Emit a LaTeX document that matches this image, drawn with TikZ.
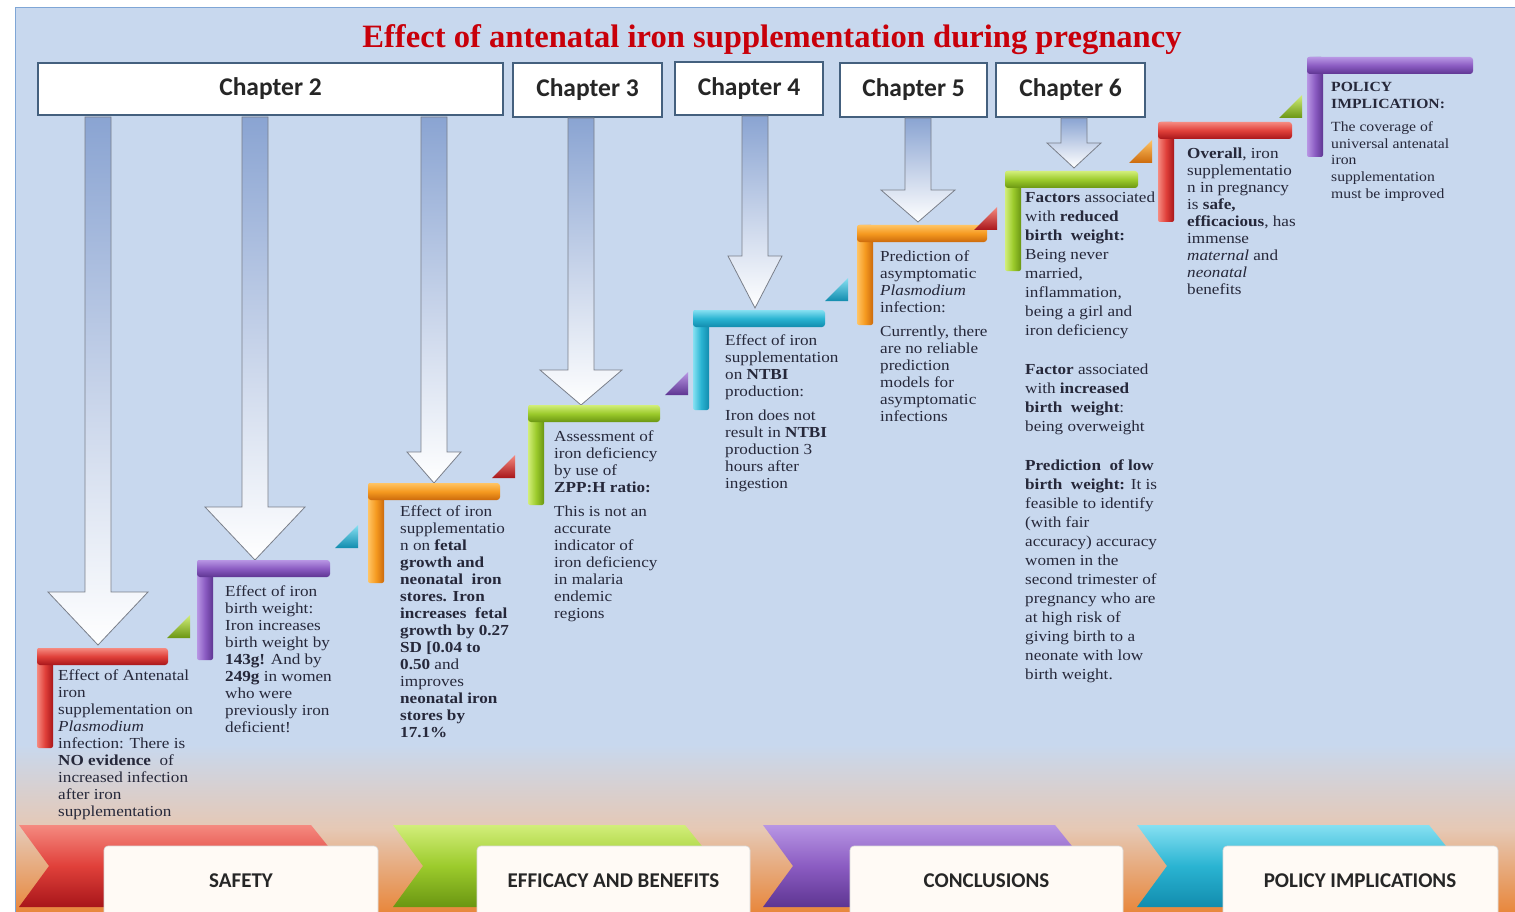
\documentclass[tikz,border=0pt]{standalone}
\usepackage{fontspec}
\setmainfont{Liberation Serif}
\newfontfamily\bodyfont{Liberation Serif}[FakeStretch=1.12]
\newfontfamily\calib{Carlito}
\definecolor{bgblue}{HTML}{C8D8EE}
\definecolor{bgtan}{HTML}{E6C8B4}
\definecolor{bgorange}{HTML}{E8873C}
\definecolor{frameblue}{HTML}{7FA6D6}
\definecolor{titlered}{HTML}{C8000A}
\definecolor{boxborder}{HTML}{44607E}
\definecolor{txtcol}{HTML}{26283A}
\definecolor{arrblue}{HTML}{8AA4D2}
\definecolor{arrline}{HTML}{7A7F8A}
\definecolor{redL}{HTML}{F58A80}\definecolor{redB}{HTML}{E0403A}\definecolor{redD}{HTML}{A8161A}
\definecolor{purL}{HTML}{B896E4}\definecolor{purB}{HTML}{8B5CC2}\definecolor{purD}{HTML}{5E3592}
\definecolor{oraL}{HTML}{FFC464}\definecolor{oraB}{HTML}{F59A20}\definecolor{oraD}{HTML}{CC6A0C}
\definecolor{greL}{HTML}{D2EE7A}\definecolor{greB}{HTML}{9CCB2C}\definecolor{greD}{HTML}{6A9612}
\definecolor{cyaL}{HTML}{86E0F2}\definecolor{cyaB}{HTML}{2AB4D2}\definecolor{cyaD}{HTML}{128CAE}
\tikzset{
  chbox/.style={draw=boxborder, line width=1.3pt, fill=white, inner sep=0pt,
    font=\calib\bfseries\fontsize{25.5}{28}\selectfont, text=black!85},
  blk/.style={anchor=north west, align=left, inner sep=0pt, text=txtcol,
    font=\bodyfont\fontsize{15.3}{17}\selectfont},
  blkwide/.style={blk, font=\bodyfont\fontsize{15.3}{19}\selectfont},
  blksmall/.style={blk, font=\bodyfont\fontsize{14}{16.6}\selectfont},
  bottomlabel/.style={font=\calib\bfseries\fontsize{21}{24}\selectfont, text=black!85},
  whitebox/.style={fill=white!96!orange, draw=white!85!black, line width=0.6pt, rounded corners=4pt},
  arrowshape/.style={draw=arrline, line width=0.8pt, top color=arrblue, bottom color=white},
}
% block arrow: centre x, top y, head y, tip y, head half width
\newcommand\myarrow[5]{%
  \path[arrowshape] (#1-13,#2) -- (#1-13,#3) -- (#1-#5,#3) -- (#1,#4) -- (#1+#5,#3)
    -- (#1+13,#3) -- (#1+13,#2) -- cycle;}
% L-shaped step: x, y, horizontal length, colour prefix
\newcommand\mystep[4]{%
  \path[rounded corners=2pt, left color=#4L, right color=#4D, middle color=#4B] (#1,#2) rectangle ++(16,100);
  \path[rounded corners=3pt, top color=#4L, bottom color=#4D, middle color=#4B] (#1,#2) rectangle ++(#3,17);}
% small triangle: top right corner x, y, colour prefix
\newcommand\mytri[3]{%
  \path[top color=#3L, bottom color=#3D] (#1,#2) -- ++(0,23) -- ++(-23,0) -- cycle;}
% chevron: left x, colour prefix
\newcommand\mychev[2]{%
  \path[top color=#2L, bottom color=#2D, middle color=#2B] (#1,825) -- ++(292,0) -- ++(33,41)
    -- ++(-33,41) -- ++(-292,0) -- ++(30,-41) -- cycle;}
\begin{document}
\begin{tikzpicture}[x=1pt,y=-1pt]
\useasboundingbox (0,0) rectangle (1515,912);
% background
\fill[white] (0,0) rectangle (1515,912);
\fill[bgblue] (15,8) rectangle (1515,745);
\shade[top color=bgblue, bottom color=bgtan] (15,744.5) rectangle (1515,830);
\shade[top color=bgtan, bottom color=bgorange] (15,829.5) rectangle (1515,912);
\draw[frameblue, line width=1pt] (15,912) -- (15,8) -- (1515,8);
% title
\node[font=\fontsize{32.6}{36}\selectfont\bfseries, text=titlered] (title) at (772,40)
  {Effect of antenatal iron supplementation during pregnancy};
% chapter boxes
\node[chbox, minimum width=465pt, minimum height=52pt] (ch2) at (270.5,89) {Chapter 2};
\node[chbox, minimum width=149pt, minimum height=54pt] (ch3) at (587.5,90) {Chapter 3};
\node[chbox, minimum width=148pt, minimum height=53pt] (ch4) at (749,88.5) {Chapter 4};
\node[chbox, minimum width=147pt, minimum height=54pt] (ch5) at (913.5,90) {Chapter 5};
\node[chbox, minimum width=149pt, minimum height=54pt] (ch6) at (1070.5,90) {Chapter 6};
% arrows
\myarrow{98}{117}{592}{645}{50}
\myarrow{255}{117}{507}{560}{50}
\myarrow{434}{117}{452}{483}{27}
\myarrow{581}{118}{370}{405}{41}
\myarrow{755}{116}{256}{308}{27}
\myarrow{918}{118}{190}{222}{37}
\myarrow{1074}{118}{143}{168}{27}
% steps
\mystep{37}{648}{131}{red}
\mystep{197}{560}{133}{pur}
\mystep{368}{483}{132}{ora}
\mystep{528}{405}{132}{gre}
\mystep{693}{310}{132}{cya}
\mystep{857}{225}{130}{ora}
\mystep{1005}{171}{133}{gre}
\mystep{1158}{122}{134}{red}
\mystep{1307}{57}{166}{pur}
% triangles
\mytri{190}{615}{gre}
\mytri{358}{525}{cya}
\mytri{515}{455}{red}
\mytri{688}{372}{pur}
\mytri{848}{278}{cya}
\mytri{997}{207}{red}
\mytri{1152}{140}{ora}
\mytri{1302}{95}{gre}
% text blocks
\node[blk] (t1) at (58,670) {Effect of Antenatal\\ iron\\ supplementation on\\ \textit{Plasmodium}\\
  infection: There is\\ \textbf{NO evidence}\ \ of\\ increased infection\\ after iron\\ supplementation};
\node[blk] (t2) at (225,586) {Effect of iron\\ birth weight:\\ Iron increases\\ birth weight by\\
  \textbf{143g!} And by\\ \textbf{249g} in women\\ who were\\ previously iron\\ deficient!};
\node[blk] (t3) at (400,506) {Effect of iron\\ supplementatio\\ n on \textbf{fetal}\\ \textbf{growth and}\\
  \textbf{neonatal\ \ iron}\\ \textbf{stores. Iron}\\ \textbf{increases\ \ fetal}\\ \textbf{growth by 0.27}\\
  \textbf{SD [0.04 to}\\ \textbf{0.50} and\\ improves\\ \textbf{neonatal iron}\\ \textbf{stores by}\\ \textbf{17.1\%}};
\node[blk] (t4) at (554,431) {Assessment of\\ iron deficiency\\ by use of\\ \textbf{ZPP:H ratio:}\\[7pt]
  This is not an\\ accurate\\ indicator of\\ iron deficiency\\ in malaria\\ endemic\\ regions};
\node[blk] (t5) at (725,335) {Effect of iron\\ supplementation\\ on \textbf{NTBI}\\ production:\\[7pt]
  Iron does not\\ result in \textbf{NTBI}\\ production 3\\ hours after\\ ingestion};
\node[blk] (t6) at (880,251) {Prediction of\\ asymptomatic\\ \textit{Plasmodium}\\ infection:\\[7pt]
  Currently, there\\ are no reliable\\ prediction\\ models for\\ asymptomatic\\ infections};
\node[blkwide] (t7) at (1025,192) {\textbf{Factors} associated\\ with \textbf{reduced}\\ \textbf{birth\ \ weight:}\\
  Being never\\ married,\\ inflammation,\\ being a girl and\\ iron deficiency\\[20pt]
  \textbf{Factor} associated\\ with \textbf{increased}\\ \textbf{birth\ \ weight}:\\ being overweight\\[20pt]
  \textbf{Prediction\ \ of low}\\ \textbf{birth\ \ weight:} It is\\ feasible to identify\\ (with fair\\
  accuracy) accuracy\\ women in the\\ second trimester of\\ pregnancy who are\\ at high risk of\\
  giving birth to a\\ neonate with low\\ birth weight.};
\node[blk] (t8) at (1187,148) {\textbf{Overall}, iron\\ supplementatio\\ n in pregnancy\\ is \textbf{safe,}\\
  \textbf{efficacious}, has\\ immense\\ \textit{maternal} and\\ \textit{neonatal}\\ benefits};
\node[blksmall] (t9) at (1331,82) {\textbf{POLICY}\\ \textbf{IMPLICATION:}\\[7pt] The coverage of\\
  universal antenatal\\ iron\\ supplementation\\ must be improved};
% bottom banner
\mychev{19}{red}
\mychev{393}{gre}
\mychev{763}{pur}
\mychev{1137}{cya}
\path[whitebox] (104,846) rectangle (378,918);
\path[whitebox] (477,846) rectangle (750,918);
\path[whitebox] (850,846) rectangle (1123,918);
\path[whitebox] (1223,846) rectangle (1498,918);
\node[bottomlabel] (l1) at (241,881) {SAFETY};
\node[bottomlabel] (l2) at (613.5,881) {EFFICACY AND BENEFITS};
\node[bottomlabel] (l3) at (986.5,881) {CONCLUSIONS};
\node[bottomlabel] (l4) at (1360,881) {POLICY IMPLICATIONS};
\end{tikzpicture}
\end{document}
